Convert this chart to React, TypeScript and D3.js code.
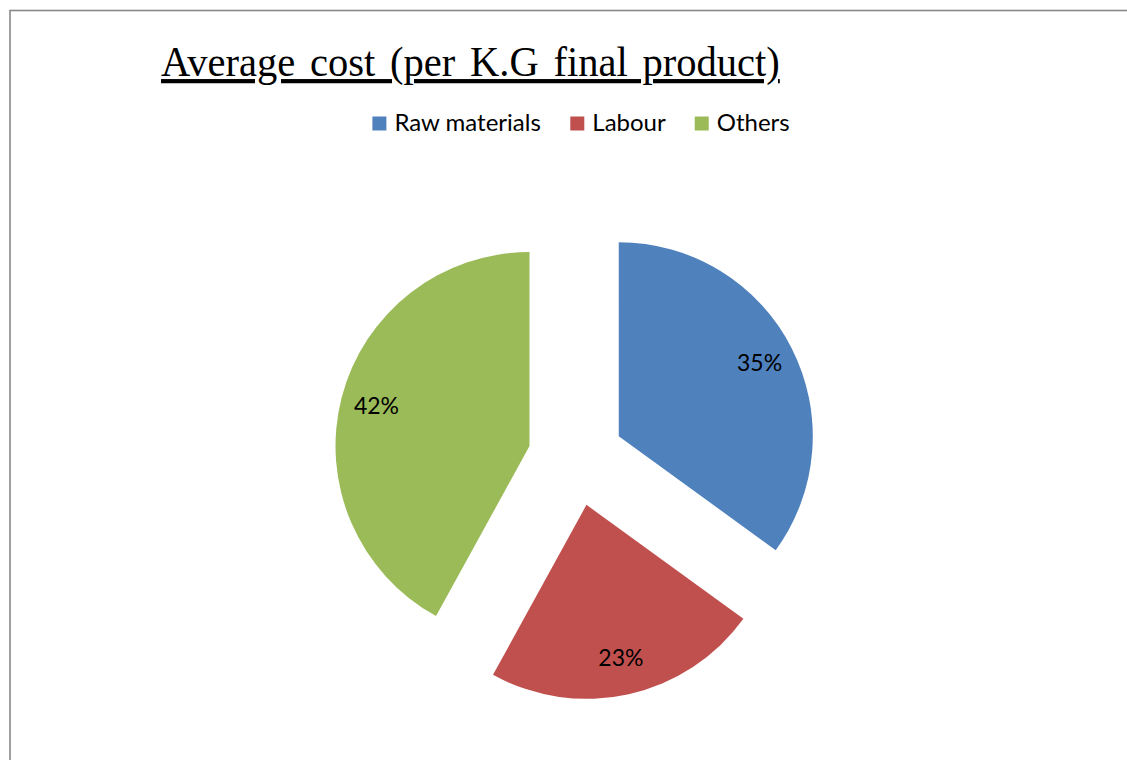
import React from "react";
import * as d3 from "d3";

const categories = ["Raw materials", "Labour", "Others"];
const values = [35, 23, 42];
const colors = ["#4F81BD", "#C0504D", "#9BBB59"];
const title = "Average cost (per K.G final product)";

const W = 1127;
const H = 760;
const cx = 576;
const cy = 458;
const R = 194;
const EXPLODE = 48;
const LABEL_R = 158;

const legendFont = "24px Lato";
const labelFontSize = 23;

function measure(text: string, font: string): number {
  const c = document.createElement("canvas");
  const ctx = c.getContext("2d");
  if (!ctx) return text.length * 12;
  ctx.font = font;
  return ctx.measureText(text).width;
}

export default function App() {
  const total = d3.sum(values);
  const pie = d3.pie<number>().sort(null).value((d) => d);
  const arcs = pie(values);
  const arc = d3.arc<d3.PieArcDatum<number>>().innerRadius(0).outerRadius(R);

  // legend layout
  const sw = 14;
  const textGap = 8;
  const itemGap = 29;
  const widths = categories.map((c) => measure(c, legendFont));
  const itemW = widths.map((w) => sw + textGap + w);
  const legendW = d3.sum(itemW) + itemGap * (categories.length - 1);
  const legendCx = 581;
  let lx = legendCx - legendW / 2;
  const legendX: number[] = [];
  itemW.forEach((w) => {
    legendX.push(lx);
    lx += w + itemGap;
  });

  const titleX = 161;
  const titleSx = 0.965;

  return (
    <svg
      width={W}
      height={H}
      style={{ position: "absolute", left: 0, top: 0, display: "block", background: "#fff" }}
    >
      <rect x={10} y={10.5} width={W + 20} height={H + 20} fill="#fff" stroke="#888" strokeWidth={1.6} />
      <g transform={`translate(${titleX},76) scale(${titleSx},1)`}>
        <text
          x={0}
          y={0}
          fontFamily="'Liberation Serif', 'Times New Roman', serif"
          fontSize={42}
          fill="#000"
          wordSpacing={4.8}
          textDecoration="underline"
        >
          {title}
        </text>
      </g>
      <g>
        {categories.map((c, i) => (
          <g key={c} transform={`translate(${legendX[i]},0)`}>
            <rect x={0} y={116.5} width={sw} height={sw} fill={colors[i]} />
            <text x={sw + textGap} y={131} fontFamily="Lato" fontSize={24} fill="#000">
              {c}
            </text>
          </g>
        ))}
      </g>
      <g transform={`translate(${cx},${cy})`}>
        {arcs.map((a, i) => {
          const mid = (a.startAngle + a.endAngle) / 2;
          const dx = Math.sin(mid) * EXPLODE;
          const dy = -Math.cos(mid) * EXPLODE;
          const lxp = Math.sin(mid) * LABEL_R;
          const lyp = -Math.cos(mid) * LABEL_R;
          const pct = Math.round((values[i] / total) * 100) + "%";
          return (
            <g key={categories[i]} transform={`translate(${dx},${dy})`}>
              <path d={arc(a) || ""} fill={colors[i]} />
              <text
                x={lxp}
                y={lyp - 2}
                textAnchor="middle"
                dominantBaseline="central"
                fontFamily="Lato"
                fontSize={labelFontSize}
                fill="#000"
              >
                {pct}
              </text>
            </g>
          );
        })}
      </g>
    </svg>
  );
}
